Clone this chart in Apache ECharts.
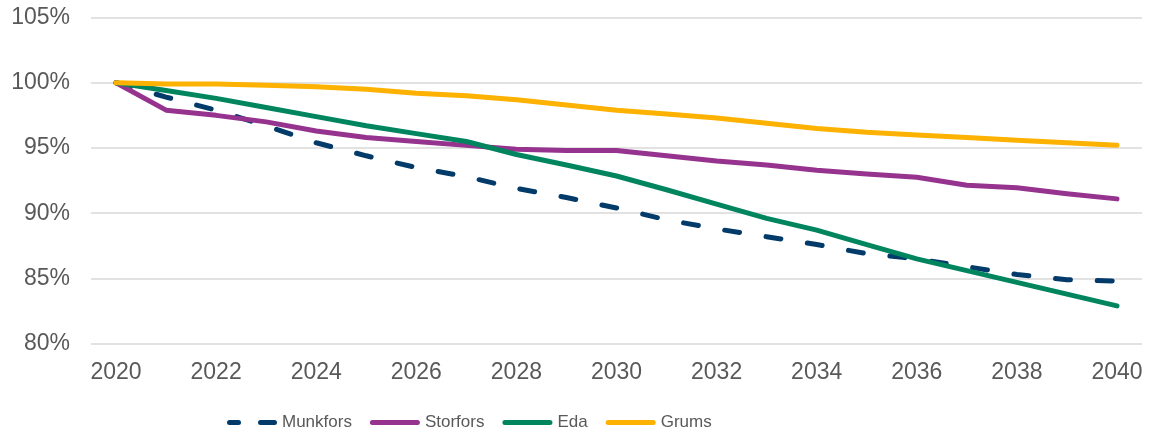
<!DOCTYPE html>
<html>
<head>
<meta charset="utf-8">
<script src="https://cdn.jsdelivr.net/npm/echarts@6/dist/echarts.min.js"></script>
<style>html,body{margin:0;padding:0;background:#fff}#c{width:1152px;height:438px}</style>
</head>
<body>
<div id="c"></div>
<script>
const years = ['2020','2021','2022','2023','2024','2025','2026','2027','2028','2029','2030','2031','2032','2033','2034','2035','2036','2037','2038','2039','2040'];
const munkfors = [100, 98.9, 97.9, 96.7, 95.4, 94.4, 93.5, 92.8, 91.9, 91.2, 90.4, 89.5, 88.8, 88.2, 87.6, 86.9, 86.5, 85.9, 85.3, 84.9, 84.8];
const storfors = [100, 97.9, 97.5, 97.0, 96.3, 95.8, 95.5, 95.2, 94.9, 94.8, 94.8, 94.4, 94.0, 93.7, 93.3, 93.0, 92.75, 92.15, 91.95, 91.5, 91.1];
const eda      = [100, 99.4, 98.8, 98.1, 97.4, 96.7, 96.1, 95.5, 94.5, 93.7, 92.85, 91.8, 90.7, 89.6, 88.7, 87.6, 86.5, 85.6, 84.7, 83.8, 82.9];
const grums    = [100, 99.9, 99.9, 99.8, 99.7, 99.5, 99.2, 99.0, 98.7, 98.3, 97.9, 97.6, 97.3, 96.9, 96.5, 96.2, 96.0, 95.8, 95.6, 95.4, 95.2];
const seriesNames = ['Munkfors','Storfors','Eda','Grums'];
const colors = ['#023B69','#95338F','#00855F','#FDB100'];

const solidIcon = 'path://M2.5,0h45a2.5,2.5 0 0 1 0,5h-45a2.5,2.5 0 0 1 0,-5z';
const dashIcon = 'path://M2.5,0h9a2.5,2.5 0 0 1 0,5h-9a2.5,2.5 0 0 1 0,-5z M33.5,0h14a2.5,2.5 0 0 1 0,5h-14a2.5,2.5 0 0 1 0,-5z';

const chart = echarts.init(document.getElementById('c'));
const mk = (name, data, color, dashed) => ({
  name, type: 'line', data, symbol: 'none', smooth: false,
  itemStyle: { color },
  lineStyle: dashed ? { color, width: 5, type: [15, 26.8], cap: 'round' } : { color, width: 5, cap: 'round', join: 'round' }
});
chart.setOption({
  animation: false,
  grid: { left: 91, right: 10, top: 17.5, bottom: 94.3 },
  xAxis: {
    type: 'category', data: years, boundaryGap: true,
    axisLine: { show: false }, axisTick: { show: false },
    axisLabel: { interval: 1, color: '#595959', fontSize: 23, fontFamily: 'Liberation Sans, Arial, sans-serif', margin: 17 }
  },
  yAxis: {
    type: 'value', min: 80, max: 105, interval: 5,
    axisLine: { show: false }, axisTick: { show: false },
    axisLabel: { formatter: '{value}%', color: '#595959', fontSize: 23, fontFamily: 'Liberation Sans, Arial, sans-serif', margin: 21 },
    splitLine: { lineStyle: { color: '#D9D9D9', width: 1.5 } }
  },
  legend: {
    data: [
      { name: seriesNames[0], icon: dashIcon },
      { name: seriesNames[1], icon: solidIcon },
      { name: seriesNames[2], icon: solidIcon },
      { name: seriesNames[3], icon: solidIcon }
    ],
    left: 222, top: 409, itemWidth: 50, itemHeight: 5, itemGap: 18, symbolKeepAspect: false,
    textStyle: { color: '#595959', fontSize: 17, fontFamily: 'Liberation Sans, Arial, sans-serif' }
  },
  series: [
    mk(seriesNames[0], munkfors, colors[0], true),
    mk(seriesNames[1], storfors, colors[1], false),
    mk(seriesNames[2], eda, colors[2], false),
    mk(seriesNames[3], grums, colors[3], false)
  ]
});
</script>
</body>
</html>
